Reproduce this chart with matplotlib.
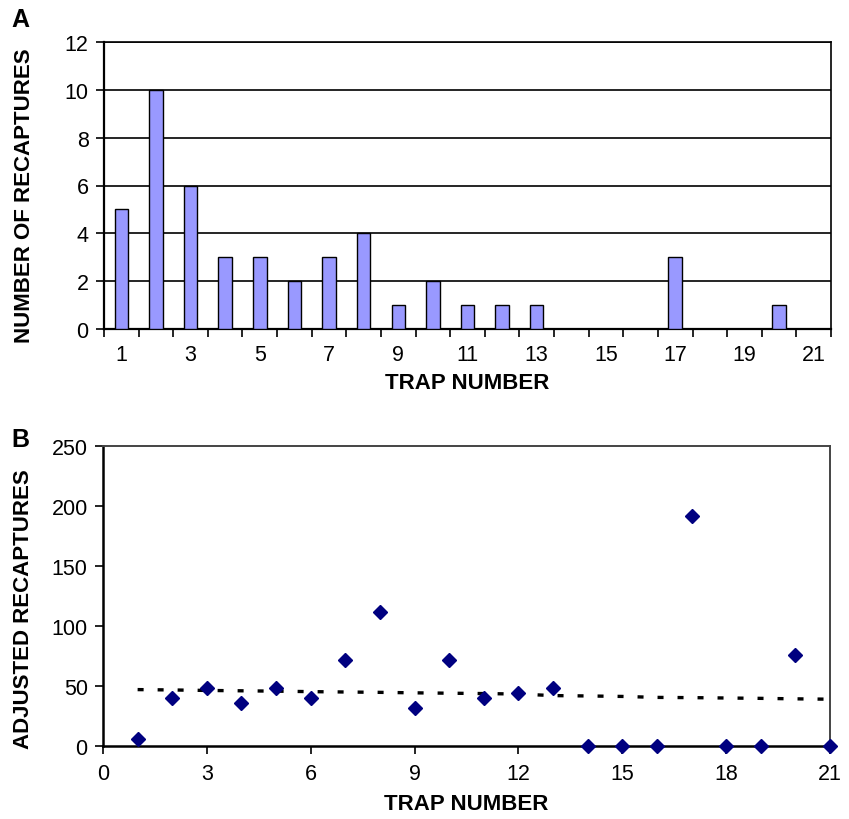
import matplotlib
matplotlib.use("Agg")
import matplotlib.pyplot as plt
import numpy as np

plt.rcParams['font.family'] = ['Liberation Sans', 'DejaVu Sans']

# Panel A data
traps = list(range(1, 22))
recaptures = [5, 10, 6, 3, 3, 2, 3, 4, 1, 2, 1, 1, 1, 0, 0, 0, 3, 0, 0, 1, 0]
a_xticklabels = ['1', '3', '5', '7', '9', '11', '13', '15', '17', '19', '21']
a_yticks = [0, 2, 4, 6, 8, 10, 12]

# Panel B data
adjusted = [6, 40, 48, 36, 48, 40, 72, 112, 32, 72, 40, 44, 48, 0, 0, 0, 192, 0, 0, 76, 0]
trend = [47, 46.7, 46.3, 46, 45.7, 45.3, 45, 44.7, 44.3, 44, 43.7, 43.3, 42, 41.7, 41.3, 40.5, 40.3, 40, 39.7, 39.3, 39]
b_xticks = [0, 3, 6, 9, 12, 15, 18, 21]
b_yticks = [0, 50, 100, 150, 200, 250]

W, H = 849, 820
fig = plt.figure(figsize=(W / 100, H / 100), dpi=100)

def box(l, r, b, t):
    return [l / W, 1 - b / H, (r - l) / W, (b - t) / H]

tick_fs = 15.5
label_fs = 16

# ---------- Panel A ----------
ax1 = fig.add_axes(box(104, 831, 330, 43))
ax1.bar(traps, recaptures, width=0.39, color='#9999FF', edgecolor='black',
        linewidth=1.0, zorder=3)
ax1.set_xlim(0.5, 21.5)
ax1.set_ylim(0, 12)
ax1.set_yticks(a_yticks)
ax1.set_yticklabels([str(v) for v in a_yticks], fontsize=tick_fs)
ax1.set_xticks(traps[::2])
ax1.set_xticklabels(a_xticklabels, fontsize=tick_fs)
ax1.tick_params(axis='x', which='major', length=0, pad=11)
ax1.set_xticks(np.arange(0.5, 22, 1.0), minor=True)
ax1.tick_params(axis='x', which='minor', length=6, width=1.2, direction='out', color='black')
ax1.tick_params(axis='y', length=6, width=1.2, direction='out', pad=5)
ax1.yaxis.grid(True, color='black', linewidth=1.2, zorder=0)
ax1.set_axisbelow(True)
for s in ax1.spines.values():
    s.set_color('black')
    s.set_linewidth(1.2)
ax1.spines['left'].set_linewidth(1.6)
ax1.spines['bottom'].set_linewidth(1.6)
ax1.set_xlabel('TRAP NUMBER', fontsize=label_fs, fontweight='bold', va='center')
ax1.xaxis.set_label_coords(0.5, -0.188)
ax1.set_ylabel('NUMBER OF RECAPTURES', fontsize=label_fs, fontweight='bold', va='center')
ax1.yaxis.set_label_coords(-0.110, 0.467)
fig.text(11 / W, 1 - 20 / H, 'A', fontsize=18, fontweight='bold', ha='left', va='center')

# ---------- Panel B ----------
ax2 = fig.add_axes(box(103, 830, 747, 447))
ax2.plot(traps, trend, color='black', linewidth=2.4, dashes=(1.8, 4.2),
         solid_capstyle='butt', dash_capstyle='butt', zorder=2)
ax2.plot(traps, adjusted, linestyle='none', marker='D', markersize=7,
         color='#000080', markeredgecolor='#000080', zorder=3, clip_on=False)
ax2.set_xlim(0, 21)
ax2.set_ylim(0, 250)
ax2.set_xticks(b_xticks)
ax2.set_xticklabels([str(v) for v in b_xticks], fontsize=tick_fs)
ax2.set_yticks(b_yticks)
ax2.set_yticklabels([str(v) for v in b_yticks], fontsize=tick_fs)
ax2.tick_params(axis='both', length=6, width=1.2, direction='out')
ax2.tick_params(axis='x', pad=6)
ax2.tick_params(axis='y', pad=5)
ax2.spines['left'].set_color('black')
ax2.spines['bottom'].set_color('black')
ax2.spines['left'].set_linewidth(1.8)
ax2.spines['bottom'].set_linewidth(1.8)
ax2.spines['top'].set_color('#444444')
ax2.spines['right'].set_color('#444444')
ax2.spines['top'].set_linewidth(1.4)
ax2.spines['right'].set_linewidth(1.4)
ax2.set_xlabel('TRAP NUMBER', fontsize=label_fs, fontweight='bold', va='center')
ax2.xaxis.set_label_coords(0.5, -0.193)
ax2.set_ylabel('ADJUSTED RECAPTURES', fontsize=label_fs, fontweight='bold', va='center')
ax2.yaxis.set_label_coords(-0.1087, 0.46)
fig.text(11 / W, 1 - 440 / H, 'B', fontsize=18, fontweight='bold', ha='left', va='center')

fig.savefig('out.png', dpi=100)
